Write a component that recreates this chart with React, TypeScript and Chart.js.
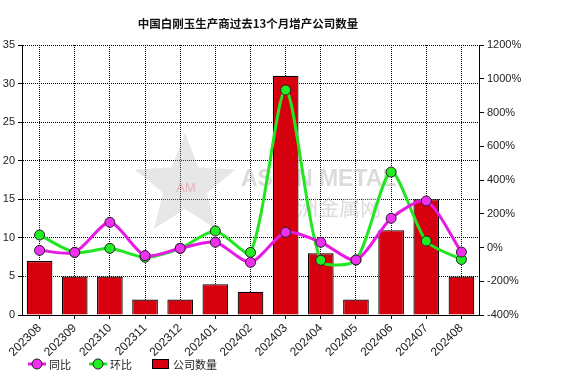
import React, { useEffect, useRef } from "react";
import { Chart, registerables } from "chart.js";

Chart.register(...registerables);

const title = "中国白刚玉生产商过去13个月增产公司数量";
const categories = ["202308", "202309", "202310", "202311", "202312", "202401", "202402", "202403", "202404", "202405", "202406", "202407", "202408"];
const companyCount = [7, 5, 5, 2, 2, 4, 3, 31, 8, 2, 11, 15, 5];
const yoyPct = [-17, -29, 149, -48, -5, 31, -88, 90, 31, -74, 173, 276, -27];
const momPct = [74, -29, -5, -58, -5, 98, -29, 933, -76, -74, 447, 38, -71];
const seriesNames = ["同比", "环比", "公司数量"];
const leftMin = 0, leftMax = 35, leftStep = 5;
const rightMin = -400, rightMax = 1200, rightStep = 200;

const LATIN = '"Liberation Sans", Arial, sans-serif';
const CJK = '"Noto Sans CJK SC", sans-serif';

const MAGENTA = "#e619e6";
const GREEN = "#22e622";
const RED = "#d6000f";

const titlePlugin = {
  id: "titlePlugin",
  afterDraw(chart: any) {
    const ctx = chart.ctx;
    ctx.save();
    ctx.font = `bold 11.5px ${CJK}`;
    ctx.fillStyle = "#111";
    ctx.textAlign = "center";
    ctx.textBaseline = "middle";
    ctx.fillText(title, 248, 24);
    ctx.restore();
  },
};

const watermarkPlugin = {
  id: "watermarkPlugin",
  beforeDatasetsDraw(chart: any) {
    const ctx = chart.ctx;
    ctx.save();
    const cx = 185, cy = 186, R = 53, r = 23;
    ctx.beginPath();
    for (let i = 0; i < 10; i++) {
      const ang = -Math.PI / 2 + (i * Math.PI) / 5;
      const rad = i % 2 === 0 ? R : r;
      ctx.lineTo(cx + rad * Math.cos(ang), cy + rad * Math.sin(ang));
    }
    ctx.closePath();
    ctx.fillStyle = "rgba(180,180,180,0.32)";
    ctx.fill();
    ctx.font = `13px ${LATIN}`;
    ctx.fillStyle = "rgba(240,130,150,0.55)";
    ctx.textAlign = "center";
    ctx.textBaseline = "middle";
    ctx.fillText("AM", 186, 188);
    ctx.font = `bold 23px ${LATIN}`;
    ctx.fillStyle = "rgba(190,190,190,0.55)";
    ctx.textAlign = "left";
    ctx.textBaseline = "alphabetic";
    ctx.fillText("ASIAN METAL", 241, 186);
    ctx.font = `21px ${CJK}`;
    ctx.fillText("亚洲金属网", 276, 215);
    ctx.restore();
  },
};

const legendPlugin = {
  id: "legendPlugin",
  afterDraw(chart: any) {
    const ctx = chart.ctx;
    const y = 364;
    ctx.save();
    const drawLineItem = (x: number, color: string, fill: string, label: string) => {
      ctx.strokeStyle = color;
      ctx.lineWidth = 3;
      ctx.beginPath();
      ctx.moveTo(x - 9, y);
      ctx.lineTo(x + 9, y);
      ctx.stroke();
      ctx.beginPath();
      ctx.arc(x, y, 5, 0, Math.PI * 2);
      ctx.fillStyle = fill;
      ctx.fill();
      ctx.lineWidth = 1;
      ctx.strokeStyle = "#222";
      ctx.stroke();
      ctx.fillStyle = "#222";
      ctx.font = `11px ${CJK}`;
      ctx.textAlign = "left";
      ctx.textBaseline = "middle";
      ctx.fillText(label, x + 12, y + 1);
    };
    const ds = chart.data.datasets;
    drawLineItem(37, ds[0].borderColor, ds[0].pointBackgroundColor, ds[0].label);
    drawLineItem(98, ds[1].borderColor, ds[1].pointBackgroundColor, ds[1].label);
    ctx.fillStyle = ds[2].backgroundColor;
    ctx.fillRect(152.5, 359.5, 16, 9);
    ctx.lineWidth = 1;
    ctx.strokeStyle = "#000";
    ctx.strokeRect(152.5, 359.5, 16, 9);
    ctx.fillStyle = "#222";
    ctx.font = `11px ${CJK}`;
    ctx.textAlign = "left";
    ctx.textBaseline = "middle";
    ctx.fillText(ds[2].label, 173, y + 1);
    ctx.restore();
  },
};

export default function App() {
  const ref = useRef<HTMLCanvasElement>(null);
  useEffect(() => {
    if (!ref.current) return;
    const chart = new Chart(ref.current, {
      type: "bar",
      data: {
        labels: categories,
        datasets: [
          {
            type: "line",
            label: seriesNames[0],
            data: yoyPct,
            yAxisID: "yR",
            borderColor: MAGENTA,
            borderWidth: 3,
            backgroundColor: MAGENTA,
            pointBackgroundColor: "#f030f0",
            pointBorderColor: "#222",
            pointBorderWidth: 1,
            pointRadius: 5,
            tension: 0.25,
            order: 1,
          } as any,
          {
            type: "line",
            label: seriesNames[1],
            data: momPct,
            yAxisID: "yR",
            borderColor: GREEN,
            borderWidth: 3,
            backgroundColor: GREEN,
            pointBackgroundColor: "#22ee22",
            pointBorderColor: "#222",
            pointBorderWidth: 1,
            pointRadius: 5,
            tension: 0.25,
            order: 2,
          } as any,
          {
            type: "bar",
            label: seriesNames[2],
            data: companyCount,
            yAxisID: "yL",
            backgroundColor: RED,
            borderColor: "#000",
            borderWidth: 1.2,
            barPercentage: 0.73,
            categoryPercentage: 1,
            order: 3,
          } as any,
        ],
      },
      options: {
        responsive: false,
        animation: false,
        layout: { padding: { top: 45, left: 0, right: 0, bottom: 0 } },
        plugins: {
          legend: { display: false },
          title: { display: false },
          tooltip: { enabled: false },
        },
        scales: {
          x: {
            offset: true,
            grid: {
              offset: false,
              color: "#000",
              lineWidth: 1,
              tickLength: 4,
              tickColor: "#000",
            },
            border: { display: true, color: "#000", width: 1, dash: [1, 1] },
            ticks: {
              maxRotation: 45,
              minRotation: 45,
              color: "#222",
              padding: 2,
              font: { family: LATIN, size: 12 },
              autoSkip: false,
            },
            afterFit: (s: any) => {
              s.height = 74;
            },
          },
          yL: {
            type: "linear",
            position: "left",
            min: leftMin,
            max: leftMax,
            grid: {
              color: "#000",
              lineWidth: 1,
              tickLength: 4,
              tickColor: "#000",
            },
            border: { display: true, color: "#000", width: 1, dash: [1, 1] },
            ticks: {
              stepSize: leftStep,
              color: "#222",
              padding: 3,
              font: { family: LATIN, size: 11 },
            },
            afterFit: (s: any) => {
              s.width = 22;
            },
          },
          yR: {
            type: "linear",
            position: "right",
            min: rightMin,
            max: rightMax,
            grid: {
              drawOnChartArea: false,
              tickLength: 5,
              tickColor: "#000",
            },
            border: { display: true, color: "#000", width: 1 },
            ticks: {
              stepSize: rightStep,
              color: "#222",
              padding: 3,
              font: { family: LATIN, size: 11 },
              callback: (v: any) => `${v}%`,
            },
            afterFit: (s: any) => {
              s.width = 99;
            },
          },
        },
      },
      plugins: [watermarkPlugin, titlePlugin, legendPlugin],
    });
    return () => chart.destroy();
  }, []);
  return (
    <div style={{ position: "absolute", left: 0, top: 0, width: 578, height: 389, background: "#fff" }}>
      <canvas ref={ref} width={578} height={389} style={{ width: 578, height: 389, display: "block" }} />
    </div>
  );
}
